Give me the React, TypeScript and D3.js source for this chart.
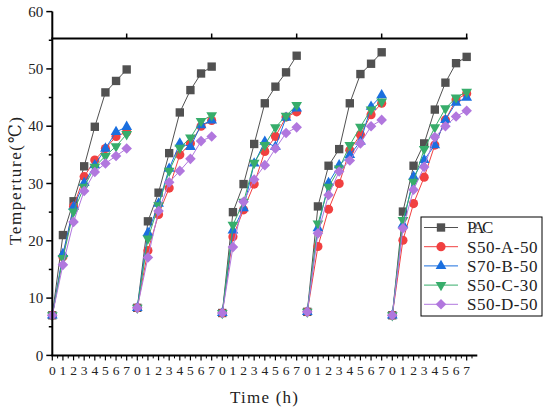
import React from 'react';
import * as d3 from 'd3';

// hours inside one heating cycle, repeated five times on the x axis
const hours = [0, 1, 2, 3, 4, 5, 6, 7];
const cycleCount = 5;
const yTicks = [0, 10, 20, 30, 40, 50, 60];

const seriesNames = ['PAC', 'S50-A-50', 'S70-B-50', 'S50-C-30', 'S50-D-50'];

const pac = [
  [7.0, 21.0, 26.9, 33.0, 39.9, 45.9, 47.9, 49.9],
  [8.3, 23.4, 28.4, 35.3, 42.4, 46.3, 49.2, 50.4],
  [7.4, 25.0, 29.9, 36.9, 44.0, 46.9, 49.4, 52.3],
  [7.6, 26.0, 33.1, 36.0, 44.0, 49.1, 50.9, 52.9],
  [7.0, 25.1, 33.1, 37.0, 42.9, 47.6, 51.0, 52.1],
];
const s50A = [
  [7.0, 17.2, 26.0, 31.2, 34.1, 36.1, 38.2, 39.0],
  [8.3, 18.3, 24.6, 29.2, 35.0, 37.0, 40.0, 41.0],
  [7.4, 20.7, 25.4, 29.9, 35.6, 38.2, 41.6, 42.5],
  [7.6, 19.0, 25.5, 30.0, 35.8, 38.5, 42.0, 44.0],
  [7.0, 20.1, 26.5, 31.1, 36.7, 41.1, 44.6, 45.7],
];
const s70B = [
  [7.0, 17.7, 25.9, 30.1, 33.2, 36.1, 39.0, 39.9],
  [8.3, 21.4, 26.5, 32.6, 37.0, 36.4, 40.2, 41.0],
  [7.4, 21.8, 25.7, 33.5, 37.3, 36.4, 41.5, 43.1],
  [7.6, 22.2, 30.1, 33.2, 35.0, 37.3, 43.4, 45.4],
  [7.0, 22.8, 31.2, 34.1, 36.7, 41.1, 44.1, 45.0],
];
const s50C = [
  [7.0, 17.0, 25.1, 29.4, 32.9, 34.8, 36.5, 38.6],
  [8.3, 20.4, 26.2, 32.2, 36.2, 38.0, 40.9, 41.9],
  [7.4, 22.8, 26.8, 33.6, 36.7, 39.8, 41.8, 43.7],
  [7.6, 23.0, 29.4, 32.6, 36.7, 39.9, 42.9, 44.3],
  [7.0, 23.6, 30.3, 36.0, 39.8, 43.1, 45.0, 46.0],
];
const s50D = [
  [7.0, 15.8, 23.3, 28.7, 32.0, 33.5, 34.8, 36.1],
  [8.3, 17.1, 25.2, 30.2, 32.2, 34.3, 37.4, 38.2],
  [7.4, 18.9, 26.8, 30.7, 33.2, 36.1, 38.8, 39.8],
  [7.6, 21.3, 28.0, 32.1, 34.0, 37.0, 40.0, 41.1],
  [7.0, 22.2, 28.9, 32.9, 38.1, 40.0, 41.7, 42.7],
];

const allSeries = [pac, s50A, s70B, s50C, s50D];
const colors = ['#515151', '#F14040', '#1A6FDF', '#37AD6B', '#B177DE'];

const W = 550;
const H = 411;
const FONT = '"Liberation Serif", "DejaVu Serif", serif';

const x = d3.scaleLinear().domain([0, hours.length * cycleCount]).range([52.3, 477.3]);
const y = d3.scaleLinear().domain([0, 60]).range([355.4, 11.6]);

const symbolPath = (i: number) => {
  const sym = d3.symbol();
  if (i === 0) return sym.type(d3.symbolSquare).size(70)()!;
  if (i === 1) return sym.type(d3.symbolCircle).size(66)()!;
  if (i === 2 || i === 3) return sym.type(d3.symbolTriangle).size(50)()!;
  return sym.type(d3.symbolSquare).size(56)()!;
};
const symbolRotate = (i: number) => (i === 3 ? 180 : i === 4 ? 45 : 0);

const line = d3
  .line<[number, number]>()
  .x((d) => x(d[0]))
  .y((d) => y(d[1]));

const App = () => {
  const nIdx = hours.length * cycleCount;
  const majorX = d3.range(0, nIdx);
  const minorX = d3.range(0, nIdx).map((d) => d + 0.5);
  const minorY = [5, 15, 25, 35, 45, 55];
  const topY = y(55.3);
  const cycleEnds = d3.range(cycleCount).map((c) => c * hours.length + hours.length - 1);

  return (
    <svg
      width={W}
      height={H}
      style={{ position: 'absolute', left: 0, top: 0, background: '#fff' }}
      fontFamily={FONT}
    >
      {/* series */}
      {allSeries.map((series, si) => (
        <g key={si}>
          {series.map((cyc, ci) => {
            const pts: [number, number][] = cyc.map((v, h) => [ci * hours.length + hours[h], v]);
            return (
              <g key={ci}>
                <path d={line(pts)!} fill="none" stroke={colors[si]} strokeWidth={1} />
                {pts.map((p, k) => (
                  <path
                    key={k}
                    d={symbolPath(si)}
                    fill={colors[si]}
                    transform={`translate(${x(p[0])},${y(p[1])}) rotate(${symbolRotate(si)})`}
                  />
                ))}
              </g>
            );
          })}
        </g>
      ))}

      {/* y axis */}
      <line x1={x(0)} x2={x(0)} y1={y(0)} y2={y(60)} stroke="#000" strokeWidth={2} />
      {yTicks.map((t) => (
        <g key={t}>
          <line x1={x(0) - 6} x2={x(0)} y1={y(t)} y2={y(t)} stroke="#000" strokeWidth={1.5} />
          <text x={x(0) - 9} y={y(t)} dy="0.35em" textAnchor="end" fontSize={15} fill="#222">
            {t}
          </text>
        </g>
      ))}
      {minorY.map((t) => (
        <line key={t} x1={x(0) - 3.5} x2={x(0)} y1={y(t)} y2={y(t)} stroke="#000" strokeWidth={1.5} />
      ))}

      {/* bottom axis */}
      <line x1={x(0) - 1} x2={x(nIdx)} y1={y(0)} y2={y(0)} stroke="#000" strokeWidth={2} />
      {majorX.map((t) => (
        <g key={t}>
          <line x1={x(t)} x2={x(t)} y1={y(0)} y2={y(0) + 5} stroke="#000" strokeWidth={1.2} />
          <text x={x(t)} y={y(0) + 20} textAnchor="middle" fontSize={13.5} fill="#222">
            {hours[t % hours.length]}
          </text>
        </g>
      ))}
      {minorX.map((t) => (
        <line key={t} x1={x(t)} x2={x(t)} y1={y(0)} y2={y(0) + 3} stroke="#000" strokeWidth={1} />
      ))}

      {/* top line */}
      <line x1={x(0) - 1} x2={x(nIdx - 1) + 1} y1={topY} y2={topY} stroke="#000" strokeWidth={2} />
      {cycleEnds.map((t) => (
        <line key={t} x1={x(t)} x2={x(t)} y1={topY} y2={topY - 5} stroke="#000" strokeWidth={1.5} />
      ))}

      {/* axis titles */}
      <text x={230} y={403} fontSize={17} fill="#222" textLength={68} lengthAdjust="spacing">
        Time (h)
      </text>
      <text
        transform="translate(21,245) rotate(-90)"
        fontSize={17}
        fill="#222"
        textLength={128}
        lengthAdjust="spacing"
      >
        Temperture(℃)
      </text>

      {/* legend */}
      <rect x={421} y={217} width={121} height={99} fill="#fff" stroke="#000" strokeWidth={1} />
      {seriesNames.map((name, i) => {
        const ly = 227.5 + i * 19.2;
        return (
          <g key={name}>
            <line x1={424} x2={458} y1={ly} y2={ly} stroke={colors[i]} strokeWidth={1} />
            <path d={symbolPath(i)} fill={colors[i]} transform={`translate(441,${ly}) rotate(${symbolRotate(i)})`} />
            <text
              x={467}
              y={ly}
              dy="0.35em"
              fontSize={17}
              fill="#222"
              textLength={name.length * 8.8}
              lengthAdjust="spacing"
            >
              {name}
            </text>
          </g>
        );
      })}
    </svg>
  );
};

export default App;
